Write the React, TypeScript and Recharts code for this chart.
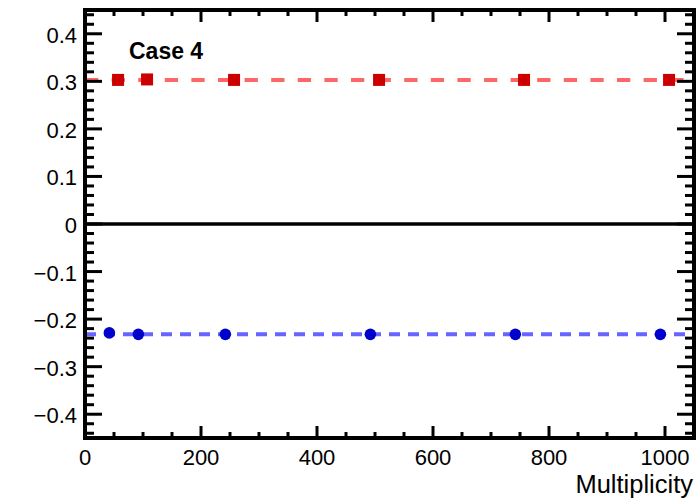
import React from "react";
import {
  ComposedChart,
  ReferenceLine,
  Scatter,
  XAxis,
  YAxis,
} from "recharts";

const FONT = "'Liberation Sans', Arial, Helvetica, sans-serif";

// Case 4 points
const redX = [57, 107, 257, 507, 757, 1007];
const redY = [0.303, 0.304, 0.303, 0.303, 0.303, 0.303];
const blueX = [42, 92, 242, 492, 742, 992];
const blueY = [-0.229, -0.232, -0.232, -0.232, -0.232, -0.232];

// flat fit lines
const redFit = 0.303;
const blueFit = -0.232;

const xMajor = [0, 200, 400, 600, 800, 1000];
const xTicks = Array.from({ length: 21 }, (_, i) => i * 50);
const yMajor = [-0.4, -0.3, -0.2, -0.1, 0, 0.1, 0.2, 0.3, 0.4];
const yTicks = Array.from({ length: 45 }, (_, i) => Math.round((-0.44 + i * 0.02) * 100) / 100);

const redData = redX.map((x, i) => ({ x, y: redY[i] }));
const blueData = blueX.map((x, i) => ({ x, y: blueY[i] }));

const isMajorX = (v: number) => xMajor.includes(v);
const isMajorY = (v: number) => yMajor.some((m) => Math.abs(m - v) < 1e-6);
const fmtY = (v: number) => (Math.abs(v) < 1e-9 ? "0" : v < 0 ? "\u2212" + Math.abs(v).toFixed(1) : v.toFixed(1));

const frame = { stroke: "#000", strokeWidth: 4, strokeLinecap: "square" as const };

const LeftTick = ({ x, y, payload }: any) => {
  const major = isMajorY(payload.value);
  return (
    <g>
      <line x1={x} x2={x + (major ? 17 : 9)} y1={y} y2={y} stroke="#000" strokeWidth={3} />
      {major && (
        <text x={x - 8} y={y + 9} textAnchor="end" fontSize={22} fontFamily={FONT} fill="#000">
          {fmtY(payload.value)}
        </text>
      )}
    </g>
  );
};

const RightTick = ({ x, y, payload }: any) => {
  const major = isMajorY(payload.value);
  return <line x1={x} x2={x - (major ? 17 : 9)} y1={y} y2={y} stroke="#000" strokeWidth={3} />;
};

const BottomTick = ({ x, y, payload }: any) => {
  const major = isMajorX(payload.value);
  return (
    <g>
      <line x1={x} x2={x} y1={y} y2={y - (major ? 12 : 6)} stroke="#000" strokeWidth={3} />
      {major && (
        <text x={x} y={y + 27} textAnchor="middle" fontSize={22} fontFamily={FONT} fill="#000">
          {payload.value}
        </text>
      )}
    </g>
  );
};

const TopTick = ({ x, y, payload }: any) => {
  const major = isMajorX(payload.value);
  return <line x1={x} x2={x} y1={y} y2={y + (major ? 12 : 6)} stroke="#000" strokeWidth={3} />;
};

const Square = (p: any) => (
  <rect x={p.cx - 6} y={p.cy - 6} width={12} height={12} fill="#cc0000" />
);
const Dot = (p: any) => <circle cx={p.cx} cy={p.cy} r={5.8} fill="#0000cc" />;
const Nothing = () => <g />;

export default function App() {
  return (
    <div style={{ position: "absolute", left: 0, top: 0, background: "#fff" }}>
      <ComposedChart
        width={699}
        height={500}
        margin={{ top: 9, right: 4, bottom: 0, left: 0 }}
        style={{ fontFamily: FONT }}
      >
        <XAxis
          xAxisId={0}
          type="number"
          dataKey="x"
          domain={[0, 1050]}
          ticks={xTicks}
          interval={0}
          height={62}
          tickSize={0}
          tickMargin={0}
          tickLine={false}
          axisLine={frame}
          tick={(props: any) => <BottomTick {...props} />}
        />
        <XAxis
          xAxisId="top"
          orientation="top"
          type="number"
          dataKey="x"
          domain={[0, 1050]}
          ticks={xTicks}
          interval={0}
          height={1}
          tickSize={0}
          tickMargin={0}
          tickLine={false}
          axisLine={frame}
          tick={(props: any) => <TopTick {...props} />}
        />
        <YAxis
          yAxisId={0}
          type="number"
          dataKey="y"
          domain={[-0.45, 0.45]}
          ticks={yTicks}
          interval={0}
          width={85}
          tickSize={0}
          tickMargin={0}
          tickLine={false}
          axisLine={frame}
          tick={(props: any) => <LeftTick {...props} />}
        />
        <YAxis
          yAxisId="right"
          orientation="right"
          type="number"
          dataKey="y"
          domain={[-0.45, 0.45]}
          ticks={yTicks}
          interval={0}
          width={1}
          tickSize={0}
          tickMargin={0}
          tickLine={false}
          axisLine={frame}
          tick={(props: any) => <RightTick {...props} />}
        />
        <ReferenceLine y={0} stroke="#000" strokeWidth={3.5} />
        <ReferenceLine y={redFit} stroke="#ff6666" strokeWidth={4} strokeDasharray="13.3 13.3" />
        <ReferenceLine y={blueFit} stroke="#6666ff" strokeWidth={4} strokeDasharray="11 8" />
        {/* binds the mirrored top/right axes so they get a scale */}
        <Scatter
          data={redData}
          dataKey="y"
          xAxisId="top"
          yAxisId="right"
          shape={Nothing}
          legendType="none"
          isAnimationActive={false}
        />
        <Scatter data={redData} dataKey="y" shape={Square} isAnimationActive={false} />
        <Scatter data={blueData} dataKey="y" shape={Dot} isAnimationActive={false} />
        <text x={129} y={59} fontSize={23} fontWeight="bold" fontFamily={FONT} fill="#000">
          Case 4
        </text>
        <text x={693} y={493} textAnchor="end" fontSize={25.5} fontFamily={FONT} fill="#000">
          Multiplicity
        </text>
      </ComposedChart>
    </div>
  );
}
